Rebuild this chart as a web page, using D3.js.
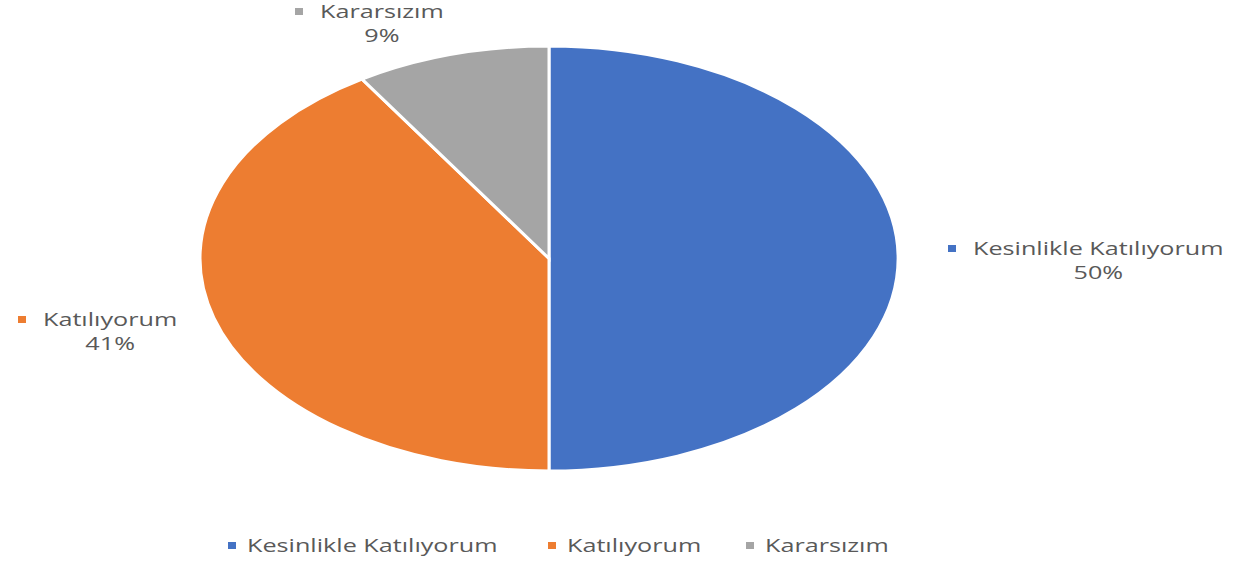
<!DOCTYPE html>
<html>
<head>
<meta charset="utf-8">
<script src="https://cdn.jsdelivr.net/npm/d3@7"></script>
<style>
  body { margin: 0; background: #fff; }
  text { font-family: "Open Sans", "Noto Sans", sans-serif; fill: #595959; font-size: 18px; }
</style>
</head>
<body>
<div id="chart"></div>
<script>
// data
var categories = ["Kesinlikle Katılıyorum", "Katılıyorum", "Kararsızım"];
var values = [50, 41, 9];
var colors = ["#4472C4", "#ED7D31", "#A5A5A5"];

var width = 1234, height = 564;
// ellipse geometry of the pie (the whole picture is stretched sideways)
var cx = 549, cy = 258.5, rx = 349, ry = 212.5;
var textStretch = 1.4;

// left edge of each data label block and baseline of its name line
var labelLayout = [
	{x: 948, y: 255},
	{x: 18, y: 326},
	{x: 295, y: 18}
];

var svg = d3.select("#chart").append("svg")
	.attr("width", width)
	.attr("height", height);

var pie = d3.pie().sort(null).value(function(d) { return d; });
var arcs = pie(values);
var arc = d3.arc().innerRadius(0).outerRadius(ry);

var g = svg.append("g")
	.attr("transform", "translate(" + cx + "," + cy + ") scale(" + (rx / ry) + ",1)");

g.selectAll("path")
	.data(arcs)
	.enter().append("path")
	.attr("d", arc)
	.attr("fill", function(d, i) { return colors[i]; })
	.attr("stroke", "#fff")
	.attr("stroke-width", 3)
	.attr("vector-effect", "non-scaling-stroke");

var total = d3.sum(values);
var fmt = function(v) { return Math.round(v / total * 100) + "%"; };

//	stretched text, returns its drawn width
function stretchedText(sel, x, y, str, anchor) {
	var t = sel.append("text").text(str);
	var w = t.node().getComputedTextLength() * textStretch;
	var left = anchor === "middle" ? x - w / 2 : x;
	t.attr("transform", "translate(" + left + "," + y + ") scale(" + textStretch + ",1)");
	return w;
}

// data labels
svg.selectAll(".lab")
	.data(arcs)
	.enter().append("g")
	.attr("class", "lab")
	.each(function(d, i) {
		var sel = d3.select(this);
		var L = labelLayout[i];
		sel.append("rect")
			.attr("x", L.x)
			.attr("y", L.y - 10)
			.attr("width", 8).attr("height", 7)
			.attr("fill", colors[i]);
		var w = stretchedText(sel, L.x + 25, L.y, categories[i]);
		stretchedText(sel, L.x + 25 + w / 2, L.y + 24, fmt(values[i]), "middle");
	});

// legend
var legendX = [228, 548, 746];
var leg = svg.selectAll(".leg")
	.data(categories)
	.enter().append("g")
	.attr("class", "leg")
	.attr("transform", function(d, i) { return "translate(" + legendX[i] + ",552)"; });

leg.append("rect")
	.attr("x", 0).attr("y", -10)
	.attr("width", 8).attr("height", 7)
	.attr("fill", function(d, i) { return colors[i]; });

leg.each(function(d) {
	stretchedText(d3.select(this), 19, 0, d);
});
</script>
</body>
</html>
